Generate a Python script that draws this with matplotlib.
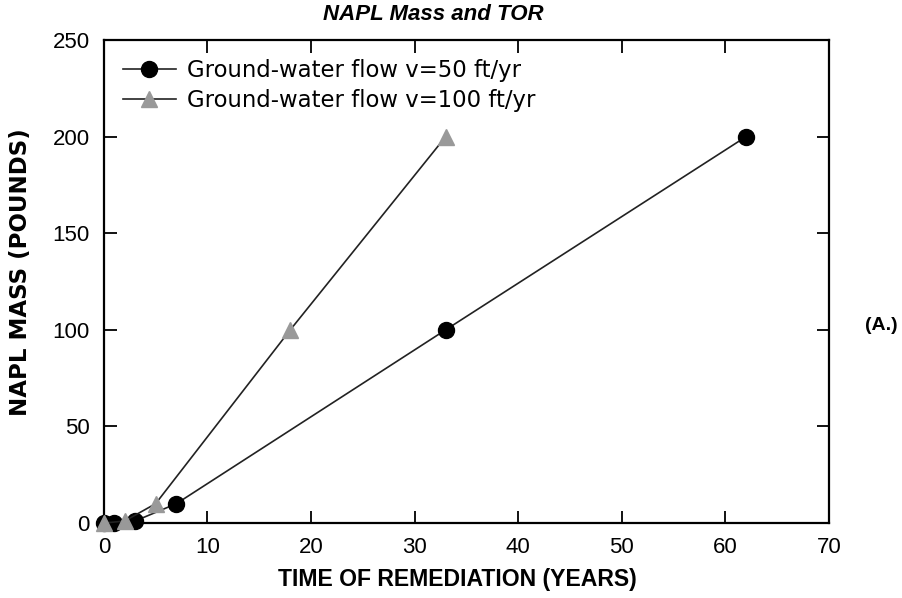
import matplotlib
matplotlib.use("Agg")
from matplotlib import pyplot as plt

plt.rcParams['font.family'] = ['Liberation Sans', 'DejaVu Sans']

# Ground-water flow v=50 ft/yr
years50 = [0, 1, 3, 7, 33, 62]
mass50 = [0, 0, 1, 10, 100, 200]
# Ground-water flow v=100 ft/yr
years100 = [0, 2, 5, 18, 33]
mass100 = [0, 1, 10, 100, 200]

xticks = [0, 10, 20, 30, 40, 50, 60, 70]
yticks = [0, 50, 100, 150, 200, 250]

fig = plt.figure(figsize=(9.03, 5.98), dpi=100)
ax = fig.add_axes([0.115, 0.1254, 0.803, 0.8076])

ax.plot(years50, mass50, color='#222222', lw=1.2, marker='o', ms=11.5,
        mfc='black', mec='black', label='Ground-water flow v=50 ft/yr',
        clip_on=False, zorder=3)
ax.plot(years100, mass100, color='#222222', lw=1.2, marker='^', ms=12,
        mfc='#999999', mec='#999999', label='Ground-water flow v=100 ft/yr',
        clip_on=False, zorder=3)

ax.set_xlim(0, 70)
ax.set_ylim(0, 250)
ax.set_xticks(xticks)
ax.set_yticks(yticks)
ax.tick_params(direction='in', length=9, width=1.3, labelsize=16,
               top=True, right=True, pad=10)
for s in ax.spines.values():
    s.set_linewidth(1.6)

# title sits a little left of centre in the original
fig.text(0.48, 0.975, 'NAPL Mass and TOR', fontsize=16, fontweight='bold',
         style='italic', ha='center', va='center')
ax.set_xlabel('TIME OF REMEDIATION (YEARS)', fontsize=16.6,
              fontweight='bold')
ax.xaxis.set_label_coords(0.488, -0.094)
ax.set_ylabel('NAPL MASS (POUNDS)', fontsize=16.5, fontweight='bold',
              family=['DejaVu Sans'])
ax.yaxis.set_label_coords(-0.099, 0.52)

leg = ax.legend(loc='upper left', bbox_to_anchor=(0.0, 1.0),
                prop={'family': 'DejaVu Sans', 'size': 16.4}, frameon=False,
                handlelength=2.3, borderaxespad=0.4, handletextpad=0.5,
                labelspacing=0.3, borderpad=0.45)

fig.text(0.994, 0.455, '(A.)', fontsize=14, fontweight='bold',
         ha='right', va='center')

fig.savefig('out.png', dpi=100)
